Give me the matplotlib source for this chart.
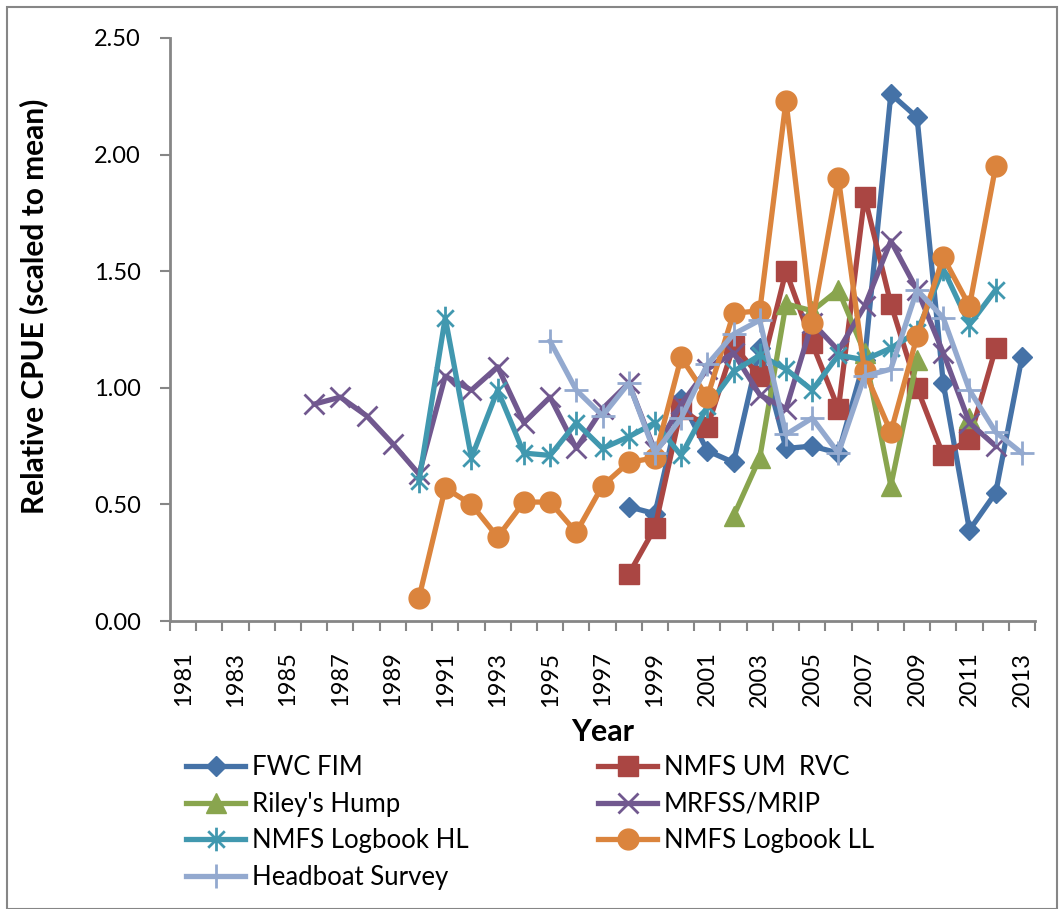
import numpy as np
import matplotlib
matplotlib.use("Agg")
import matplotlib.pyplot as plt
from matplotlib.path import Path
from matplotlib.patches import Rectangle

plt.rcParams['font.family'] = ['Lato', 'DejaVu Sans']

years = list(range(1981, 2014))

# series values (first year, values); nan = no point
fwc_start = 1998
fwc_fim = [0.49, 0.46, 0.95, 0.73, 0.68, 1.17, 0.74, 0.75, 0.72, 1.12, 2.26, 2.16, 1.02, 0.39, 0.55, 1.13]
rvc_start = 1998
nmfs_um_rvc = [0.20, 0.40, 0.91, 0.83, 1.18, 1.05, 1.50, 1.19, 0.91, 1.82, 1.36, 1.00, 0.71, 0.78, 1.17]
riley_start = 2002
rileys_hump = [0.45, 0.70, 1.36, 1.33, 1.42, 1.15, 0.58, 1.12, np.nan, 0.87]
mrfss_start = 1986
mrfss_mrip = [0.93, 0.96, 0.88, 0.76, 0.63, 1.05, 0.99, 1.09, 0.85, 0.96, 0.74, 0.91, 1.02, 0.73,
              0.93, 1.08, 1.15, 0.97, 0.91, 1.28, 1.16, 1.35, 1.63, 1.42, 1.15, 0.85, 0.75]
hl_start = 1990
logbook_hl = [0.60, 1.30, 0.70, 0.99, 0.72, 0.71, 0.85, 0.74, 0.79, 0.85, 0.71, 0.92, 1.07, 1.14,
              1.08, 0.99, 1.14, 1.12, 1.17, 1.24, 1.51, 1.27, 1.42]
ll_start = 1990
logbook_ll = [0.10, 0.57, 0.50, 0.36, 0.51, 0.51, 0.38, 0.58, 0.68, 0.70, 1.13, 0.96, 1.32, 1.33,
              2.23, 1.28, 1.90, 1.07, 0.81, 1.22, 1.56, 1.35, 1.95]
hb_start = 1995
headboat = [1.20, 0.99, 0.88, 1.02, 0.72, 0.87, 1.10, 1.23, 1.29, 0.80, 0.87, 0.72, 1.05, 1.08,
            1.42, 1.30, 0.99, 0.81, 0.72]


def full(start, vals):
    out = np.full(len(years), np.nan)
    i = years.index(start)
    out[i:i + len(vals)] = vals
    return out


# excel style star marker (x with vertical bar)
star = Path([(-0.7, -0.7), (0.7, 0.7), (-0.7, 0.7), (0.7, -0.7), (0, -1), (0, 1)],
            [Path.MOVETO, Path.LINETO, Path.MOVETO, Path.LINETO, Path.MOVETO, Path.LINETO])

fig = plt.figure(figsize=(10.59, 9.09), dpi=100)
ax = fig.add_axes([170 / 1059, 1 - 621 / 909, 865 / 1059, 583 / 909])

lw = 3.8
h_fwc, = ax.plot(years, full(fwc_start, fwc_fim), color='#4572A7', lw=lw, marker='D', ms=10, label='FWC FIM')
h_rvc, = ax.plot(years, full(rvc_start, nmfs_um_rvc), color='#AA4643', lw=lw, marker='s', ms=14, label='NMFS UM  RVC')
h_ril, = ax.plot(years, full(riley_start, rileys_hump), color='#89A54E', lw=lw, marker='^', ms=15, label="Riley's Hump")
h_mrf, = ax.plot(years, full(mrfss_start, mrfss_mrip), color='#71588F', lw=lw, marker='x', ms=15, mew=2, label='MRFSS/MRIP')
h_hl, = ax.plot(years, full(hl_start, logbook_hl), color='#4198AF', lw=lw, marker=star, ms=17, mew=2, label='NMFS Logbook HL')
h_ll, = ax.plot(years, full(ll_start, logbook_ll), color='#DB843D', lw=lw, marker='o', ms=15, label='NMFS Logbook LL')
h_hb, = ax.plot(years, full(hb_start, headboat), color='#93A9CF', lw=lw, marker='+', ms=17, mew=2, label='Headboat Survey')

ax.set_xlim(1980.5, 2013.5)
ax.set_ylim(0, 2.5)
ax.set_yticks(np.arange(0, 2.51, 0.5))
ax.set_yticklabels(['%.2f' % v for v in np.arange(0, 2.51, 0.5)])
ax.set_xticks(years[::2])
ax.set_xticklabels([str(y) for y in years[::2]], rotation=90)
ax.set_xticks(np.arange(1980.5, 2014, 1.0), minor=True)
ax.tick_params(axis='x', which='major', length=0, pad=22, labelsize=17)
ax.tick_params(axis='x', which='minor', length=7, width=1.5, color='#868686', direction='out')
ax.tick_params(axis='y', length=7, width=1.5, color='#868686', direction='out', pad=14, labelsize=17)

for s in ['top', 'right']:
    ax.spines[s].set_visible(False)
for s in ['left', 'bottom']:
    ax.spines[s].set_color('#868686')
    ax.spines[s].set_linewidth(2)

ax.set_ylabel('Relative CPUE (scaled to mean)', fontsize=21.5, fontweight='bold')
ax.yaxis.set_label_coords(-0.141, 0.539)
ax.set_xlabel('Year', fontsize=22, fontweight='bold')
ax.xaxis.set_label_coords(0.5, -0.166)

leg_kw = dict(frameon=False, fontsize=18.5, handlelength=2.3, handletextpad=0.25,
              labelspacing=0.45, borderpad=0, borderaxespad=0, loc='upper left')
leg1 = fig.legend(handles=[h_fwc, h_ril, h_hl, h_hb], bbox_to_anchor=(186 / 1059, 1 - 755 / 909), **leg_kw)
leg2 = fig.legend(handles=[h_rvc, h_mrf, h_ll], bbox_to_anchor=(598 / 1059, 1 - 755 / 909), **leg_kw)

fig.patches.append(Rectangle((7 / 1059, 0), 1 - 9 / 1059, 1 - 7 / 909, transform=fig.transFigure,
                             fill=False, edgecolor='#868686', lw=1.5))

fig.savefig('out.png', dpi=100)
